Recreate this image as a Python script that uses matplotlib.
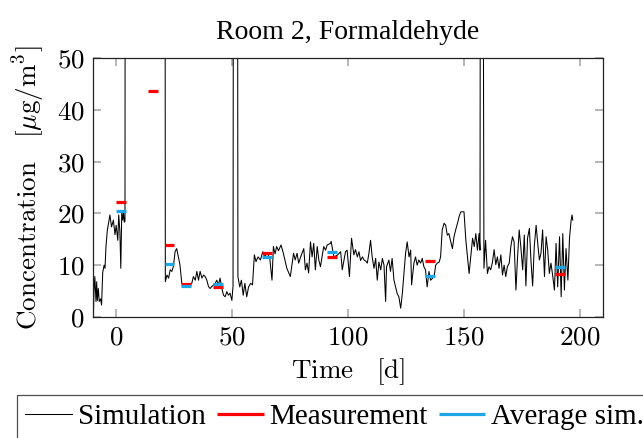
import matplotlib
matplotlib.use("Agg")
import matplotlib.pyplot as plt
from matplotlib.ticker import FuncFormatter

plt.rcParams['mathtext.fontset'] = 'cm'
plt.rcParams['font.family'] = ['Liberation Serif', 'DejaVu Serif']

# simulated concentration (values above 50 are off the chart)
sim_t = [-9.8, -9.6, -9.2, -8.7, -8.4, -8.1, -7.7, -7.3, -6.7, -6.3, -5.8, -5.2, -4.8, -4.4,
         -3.8, -3.2, -2.7, -2.0, -1.2, -0.5, 0.0, 0.7, 1.1, 1.6, 2.0, 2.4, 2.8, 3.1, 3.5, 3.8,
         4.0, 21.0, 21.2, 21.9, 22.6, 23.3, 24.0, 24.7, 25.4, 26.1, 26.8, 27.5, 28.3, 29.7,
         31.2, 32.6, 33.3, 34.1, 34.8, 35.5, 36.2, 37.0, 37.7, 38.4, 39.1, 39.8, 40.5, 41.3,
         42.0, 42.7, 43.4, 44.1, 44.8, 45.6, 46.3, 47.0, 47.7, 48.4, 49.1, 49.9, 50.4, 50.7,
         52.2, 52.5, 53.3, 54.0, 54.8, 55.5, 56.3, 57.1, 58.0, 58.8, 59.6, 60.3, 61.2, 62.2,
         63.2, 64.0, 65.0, 66.2, 67.2, 67.8, 68.5, 69.2, 70.0, 71.1, 72.1, 73.6, 75.1, 76.5, 77.2,
         78.0, 78.7, 79.4, 80.9, 81.6, 82.3, 83.0, 83.8, 84.5, 85.2, 85.9, 86.7, 87.4, 88.1,
         89.5, 90.3, 91.0, 92.4, 92.7, 93.9, 95.3, 96.8, 97.5, 98.9, 99.6, 100.6, 101.5,
         102.5, 103.2, 104.0, 104.7, 105.4, 106.2, 106.9, 107.6, 108.3, 109.0, 109.7, 110.4,
         111.2, 111.9, 112.6, 113.3, 114.1, 114.8, 115.5, 116.2, 116.6, 117.6, 118.3, 119.0,
         119.8, 120.5, 121.2, 121.9, 122.7, 123.4, 124.1, 124.8, 125.5, 126.3, 127.0, 127.4,
         128.4, 129.1, 129.8, 130.5, 131.3, 132.0, 132.7, 133.4, 134.1, 134.9, 135.6, 137.1,
         137.8, 138.5, 139.3, 139.9, 140.6, 141.4, 142.1, 142.8, 143.5, 144.3, 145.0, 145.7,
         146.4, 147.2, 147.9, 148.6, 150.0, 150.8, 151.5, 152.2, 152.9, 153.7, 154.4, 155.1,
         155.8, 156.5, 156.9, 157.2, 157.9, 158.6, 159.3, 160.1, 160.8, 161.5, 162.2, 163.0,
         163.7, 164.4, 165.1, 165.9, 166.6, 167.3, 168.0, 168.7, 169.5, 170.2, 170.9, 171.6,
         172.4, 173.1, 173.8, 174.5, 175.3, 176.0, 176.7, 177.4, 178.2, 178.9, 179.6, 180.3,
         181.1, 181.8, 182.5, 183.2, 183.9, 184.7, 185.4, 186.1, 186.8, 187.5, 188.3, 189.0,
         189.7, 190.4, 191.2, 191.9, 192.6, 193.3, 194.0, 194.8, 195.5, 196.2, 196.6, 196.9]
sim_c = [0.5, 4.6, 7.8, 3.0, 6.8, 3.2, 5.5, 3.0, 3.5, 2.3, 8.6, 10.0, 9.4, 13.6,
         16.8, 18.3, 19.7, 17.4, 18.7, 15.9, 17.7, 14.8, 19.7, 16.5, 9.4, 20.0, 18.7, 20.3, 18.3, 18.5,
         150, 150, 6.8, 8.1, 7.5, 9.1, 8.8, 9.8, 12.6, 13.2, 11.6, 10.1, 6.5, 5.9,
         5.9, 6.5, 7.8, 7.1, 8.8, 7.1, 8.8, 7.5, 8.1, 7.8, 7.1, 5.9, 5.5, 5.9,
         6.2, 6.5, 7.1, 6.2, 7.5, 5.5, 4.2, 3.9, 4.9, 4.2, 4.6, 3.2, 6.0, 150,
         150, 7.8, 5.8, 7.1, 4.2, 6.5, 3.9, 5.8, 6.5, 6.2, 12.0, 10.7, 11.6, 11.0,
         12.6, 11.6, 12.3, 11.5, 7.1, 13.6, 12.2, 13.6, 12.8, 13.9, 12.3, 9.4, 7.8, 12.3, 11.0,
         12.3, 10.4, 11.4, 13.2, 9.1, 10.4, 8.5, 14.5, 11.6, 14.2, 9.1, 13.6, 11.0, 9.7,
         13.6, 12.9, 13.9, 14.2, 14.6, 11.6, 11.9, 12.6, 9.1, 12.6, 12.9, 7.8, 15.2,
         12.0, 13.0, 11.6, 12.6, 10.9, 11.6, 11.0, 10.8, 10.4, 12.3, 14.8, 11.6,
         9.4, 11.3, 7.1, 10.6, 9.1, 11.3, 10.0, 3.0, 9.7, 11.0, 8.8, 11.3,
         7.1, 5.8, 4.5, 3.9, 1.7, 4.5, 8.4, 12.3, 14.5, 11.6, 12.9, 6.2,
         10.4, 11.6, 10.0, 11.0, 10.4, 11.3, 9.7, 9.1, 5.8, 8.8, 7.1, 7.8,
         10.0, 10.4, 10.6, 11.6, 16.8, 18.1, 17.7, 15.8, 16.1, 14.5, 13.2, 15.5,
         16.8, 18.1, 19.4, 20.3, 20.3, 14.8, 11.6, 8.4, 11.6, 15.2, 13.6, 16.1,
         12.9, 16.1, 12.9, 150, 150, 9.4, 14.8, 8.4, 9.7, 9.1, 10.4, 13.0,
         10.1, 11.6, 9.4, 12.0, 8.1, 10.0, 7.8, 9.7, 10.4, 13.6, 15.5, 14.5,
         5.2, 11.6, 16.8, 13.6, 9.1, 15.8, 6.0, 15.2, 17.1, 10.7, 6.0, 13.6,
         17.7, 14.2, 11.0, 12.3, 16.8, 7.8, 15.5, 12.9, 8.4, 10.4, 7.8, 5.2,
         14.2, 5.8, 15.5, 3.9, 16.1, 5.2, 13.2, 7.1, 15.2, 18.7, 19.7, 18.7]

# measurement periods: start / end day
meas_start = [0.0, 13.8, 21.1, 28.0, 41.9, 63.0, 91.1, 133.0, 189.2]
meas_end = [4.1, 18.1, 25.0, 32.3, 46.2, 67.4, 95.4, 137.4, 193.5]
meas_val = [22.2, 43.6, 13.9, 6.4, 5.8, 12.4, 11.6, 10.9, 8.3]
# averaged simulation over same periods (None: no value)
avg_val = [20.5, None, 10.2, 6.0, 6.4, 11.5, 12.5, 8.0, 9.6]

red = '#ff0000'
blue = '#1ca6e6'

fig = plt.figure(figsize=(6.43, 4.38), dpi=100)
ax = fig.add_axes([0.1446, 0.2763, 0.7934, 0.5913])

ax.plot(sim_t, sim_c, color='black', lw=0.75, label='Simulation', zorder=2)
ax.hlines(meas_val, meas_start, meas_end, color=red, lw=2.3, label='Measurement', zorder=3)
av_s = [s for s, v in zip(meas_start, avg_val) if v is not None]
av_e = [e for e, v in zip(meas_end, avg_val) if v is not None]
av_v = [v for v in avg_val if v is not None]
ax.hlines(av_v, av_s, av_e, color=blue, lw=2.3, label='Average sim.', zorder=3)

ax.set_xlim(-10, 210)
ax.set_ylim(0, 50)
ax.set_xticks([0, 50, 100, 150, 200])
ax.set_yticks([0, 10, 20, 30, 40, 50])
fmt = FuncFormatter(lambda v, p: '$%g$' % v)
ax.xaxis.set_major_formatter(fmt)
ax.yaxis.set_major_formatter(fmt)
ax.tick_params(direction='in', top=True, right=True, length=6, width=1.2,
               color='#aaaaaa', labelsize=19.5, pad=6)
for s in ax.spines.values():
    s.set_color('#222222')
    s.set_linewidth(0.9)

ax.set_xlabel(r'$\mathrm{Time}\quad[\mathrm{d}]$', fontsize=19.5, labelpad=4)
ax.set_ylabel(r'$\mathrm{Concentration}\quad[\mathrm{\mu g/m^3}]$', fontsize=19.5, labelpad=6)
ax.set_title('Room 2, Formaldehyde', fontsize=20, pad=14)

leg = fig.legend(loc='upper left', bbox_to_anchor=(0.026, 0.098), ncol=3,
                 fontsize=21, frameon=True, fancybox=False, edgecolor='#222222',
                 handlelength=1.6, handletextpad=0.2, columnspacing=0.38,
                 borderpad=0.3, borderaxespad=0)
leg.get_frame().set_linewidth(0.9)

fig.savefig('out.png', dpi=100)
